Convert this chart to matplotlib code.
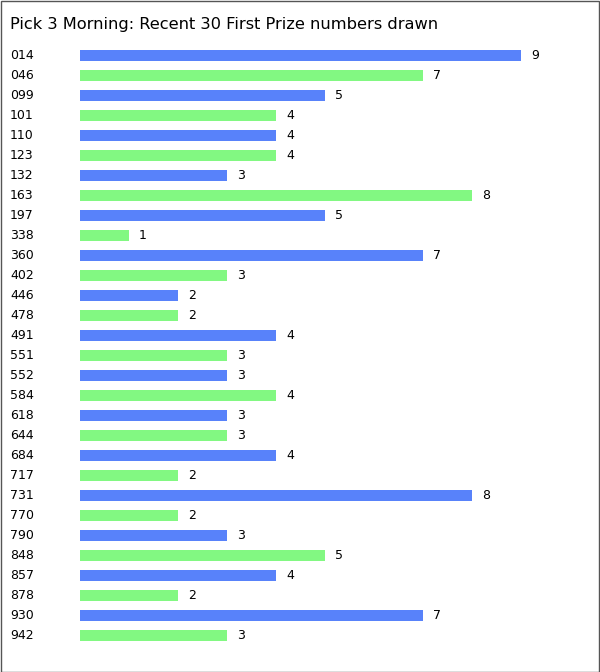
import matplotlib
matplotlib.use("Agg")
import matplotlib.pyplot as plt
from matplotlib.patches import Rectangle
import matplotlib.transforms as mtransforms

numbers = ["014", "046", "099", "101", "110", "123", "132", "163", "197", "338",
           "360", "402", "446", "478", "491", "551", "552", "584", "618", "644",
           "684", "717", "731", "770", "790", "848", "857", "878", "930", "942"]
counts = [9, 7, 5, 4, 4, 4, 3, 8, 5, 1,
          7, 3, 2, 2, 4, 3, 3, 4, 3, 3,
          4, 2, 8, 2, 3, 5, 4, 2, 7, 3]
title = "Pick 3 Morning: Recent 30 First Prize numbers drawn"

blue = "#5882FA"
green = "#82F882"

W, H = 600, 672
fig = plt.figure(figsize=(W / 100, H / 100), dpi=100)
fig.patch.set_facecolor("white")

# axes: x from 80px to 580px, y rows centered from 55.5px with 20px spacing
ax_left, ax_right = 80, 580
ax_top, ax_bottom = 45.5, 645.5
ax = fig.add_axes([ax_left / W, 1 - ax_bottom / H, (ax_right - ax_left) / W, (ax_bottom - ax_top) / H])
ax.set_xlim(0, (ax_right - ax_left) / 49.0)
ax.set_ylim(len(numbers) - 0.5, -0.5)
ax.axis("off")

colors = [blue if i % 2 == 0 else green for i in range(len(numbers))]
ys = list(range(len(numbers)))
ax.barh(ys, counts, height=0.55, color=colors, edgecolor="none")

label_trans = mtransforms.blended_transform_factory(fig.transFigure, ax.transData)
val_trans = ax.transData + mtransforms.ScaledTranslation(10 / 100, 0, fig.dpi_scale_trans)
for y, n, c in zip(ys, numbers, counts):
    ax.text(10 / W, y, n, transform=label_trans, ha="left", va="center",
            fontsize=9, color="black", family="DejaVu Sans")
    ax.text(c, y, str(c), transform=val_trans, ha="left", va="center",
            fontsize=9, color="black", family="DejaVu Sans")

fig.text(10 / W, 1 - 24 / H, title, ha="left", va="center", fontsize=11.7,
         color="black", family="DejaVu Sans")

fig.patches.append(Rectangle((0.5 / W, 0.5 / H), 1 - 1.5 / W, 1 - 1.5 / H,
                             transform=fig.transFigure, fill=False,
                             edgecolor="#555555", linewidth=1.0))

fig.savefig("out.png", dpi=100, facecolor="white")
